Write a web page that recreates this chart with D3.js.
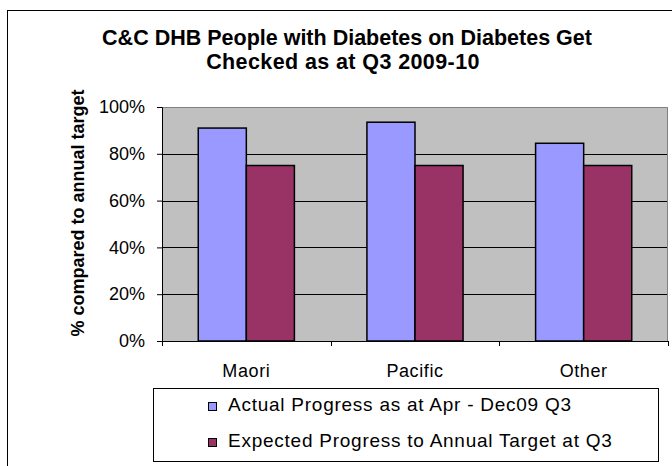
<!DOCTYPE html>
<html>
<head>
<meta charset="utf-8">
<script src="https://cdnjs.cloudflare.com/ajax/libs/d3/7.8.5/d3.min.js"></script>
<style>
  body { margin: 0; background: #fff; }
  svg text { font-family: "Liberation Sans", Arial, sans-serif; fill: #000; }
</style>
</head>
<body>
<div class="chart"></div>
<script>
// Data
var categories = ['Maori', 'Pacific', 'Other'];
var seriesNames = ['Actual Progress as at Apr - Dec09 Q3', 'Expected Progress to Annual Target at Q3'];
var actual = [0.91, 0.935, 0.845];
var expected = [0.75, 0.75, 0.75];
var yTicks = [0, 0.2, 0.4, 0.6, 0.8, 1.0];
var colours = ['#9999FF', '#993366'];

var w = 672, h = 466;

var svg = d3.select('.chart')
            .append('svg')
            .attr('width', w)
            .attr('height', h);

// outer chart border (right / bottom run off the picture)
svg.append('rect')
   .attr('x', 7.5).attr('y', 10.5)
   .attr('width', 700).attr('height', 500)
   .attr('fill', 'none').attr('stroke', '#000');

// plot area
var plot = {left: 162, top: 107, right: 668, bottom: 341};

var x0 = d3.scaleBand()
           .domain(categories)
           .range([plot.left, plot.right])
           .paddingInner(0.43)
           .paddingOuter(0.215);

var x1 = d3.scaleBand()
           .domain(d3.range(seriesNames.length))
           .range([0, x0.bandwidth()]);

var y = d3.scaleLinear()
          .domain([0, 1])
          .range([plot.bottom, plot.top]);

svg.append('rect')
   .attr('x', plot.left).attr('y', plot.top)
   .attr('width', plot.right - plot.left).attr('height', plot.bottom - plot.top)
   .attr('fill', '#C0C0C0');

// gridlines
svg.append('g')
   .selectAll('line')
   .data(yTicks.filter(function(d) { return d > 0 && d < 1; }))
   .enter().append('line')
   .attr('x1', plot.left).attr('x2', plot.right)
   .attr('y1', function(d) { return Math.round(y(d)) + 0.5; })
   .attr('y2', function(d) { return Math.round(y(d)) + 0.5; })
   .attr('stroke', '#000');

// top / right border of plot area
svg.append('path')
   .attr('d', 'M' + plot.left + ',' + (plot.top + 0.5) + 'H' + (plot.right - 0.5) + 'V' + plot.bottom)
   .attr('fill', 'none').attr('stroke', '#808080');

// bars
var rows = categories.map(function(c, i) { return {cat: c, vals: [actual[i], expected[i]]}; });

svg.append('g')
   .selectAll('g')
   .data(rows)
   .enter().append('g')
   .attr('transform', function(d) { return 'translate(' + x0(d.cat) + ',0)'; })
   .selectAll('rect')
   .data(function(d) { return d.vals; })
   .enter().append('rect')
   .attr('x', function(d, i) { return x1(i); })
   .attr('y', function(d) { return y(d); })
   .attr('width', x1.bandwidth())
   .attr('height', function(d) { return y(0) - y(d); })
   .attr('fill', function(d, i) { return colours[i]; })
   .attr('stroke', '#000')
   .attr('stroke-width', 1.5);

// y axis
var yAxis = svg.append('g')
   .attr('transform', 'translate(' + plot.left + ',0)')
   .call(d3.axisLeft(y).tickValues(yTicks).tickSize(5).tickPadding(12)
           .tickFormat(d3.format('.0%')));
yAxis.select('.domain').attr('stroke', '#000');
yAxis.selectAll('text').attr('font-size', '18px').style('font-family', '"Liberation Sans", Arial, sans-serif');

// x axis: ticks sit between categories
var step = x0.step();
svg.append('line')
   .attr('x1', plot.left).attr('x2', plot.right)
   .attr('y1', plot.bottom + 0.5).attr('y2', plot.bottom + 0.5)
   .attr('stroke', '#000');
svg.append('g')
   .selectAll('line')
   .data(d3.range(categories.length + 1))
   .enter().append('line')
   .attr('x1', function(i) { return Math.round(plot.left + i * step) + 0.5; })
   .attr('x2', function(i) { return Math.round(plot.left + i * step) + 0.5; })
   .attr('y1', plot.bottom).attr('y2', plot.bottom + 5)
   .attr('stroke', '#000');

svg.append('g')
   .selectAll('text')
   .data(categories)
   .enter().append('text')
   .attr('x', function(d) { return x0(d) + x0.bandwidth() / 2; })
   .attr('y', 377)
   .attr('text-anchor', 'middle')
   .attr('font-size', '18px')
   .attr('letter-spacing', '0.6px')
   .text(function(d) { return d; });

// titles
svg.append('text')
   .attr('x', 347).attr('y', 45)
   .attr('text-anchor', 'middle')
   .attr('font-size', '21.5px').attr('font-weight', 'bold')
   .text('C&C DHB People with Diabetes on Diabetes Get');
svg.append('text')
   .attr('x', 343).attr('y', 69)
   .attr('text-anchor', 'middle')
   .attr('font-size', '21.5px').attr('font-weight', 'bold')
   .attr('letter-spacing', '0.4px')
   .text('Checked as at Q3 2009-10');

svg.append('text')
   .attr('transform', 'translate(84,213) rotate(-90)')
   .attr('text-anchor', 'middle')
   .attr('font-size', '18px').attr('font-weight', 'bold')
   .text('% compared to annual target');

// legend
var legend = svg.append('g');
legend.append('rect')
      .attr('x', 153.5).attr('y', 388.5)
      .attr('width', 505).attr('height', 73)
      .attr('fill', '#fff').attr('stroke', '#000');

var item = legend.selectAll('.item')
      .data(seriesNames)
      .enter().append('g')
      .attr('class', 'item')
      .attr('transform', function(d, i) { return 'translate(208,' + (402 + i * 36) + ')'; });
item.append('rect')
    .attr('x', 0.5).attr('y', 0.5)
    .attr('width', 8).attr('height', 8)
    .attr('fill', function(d, i) { return colours[i]; })
    .attr('stroke', '#000');
item.append('text')
    .attr('x', 20).attr('y', 8.5)
    .attr('font-size', '19px')
    .attr('letter-spacing', '0.75px')
    .text(function(d) { return d; });
</script>
</body>
</html>
